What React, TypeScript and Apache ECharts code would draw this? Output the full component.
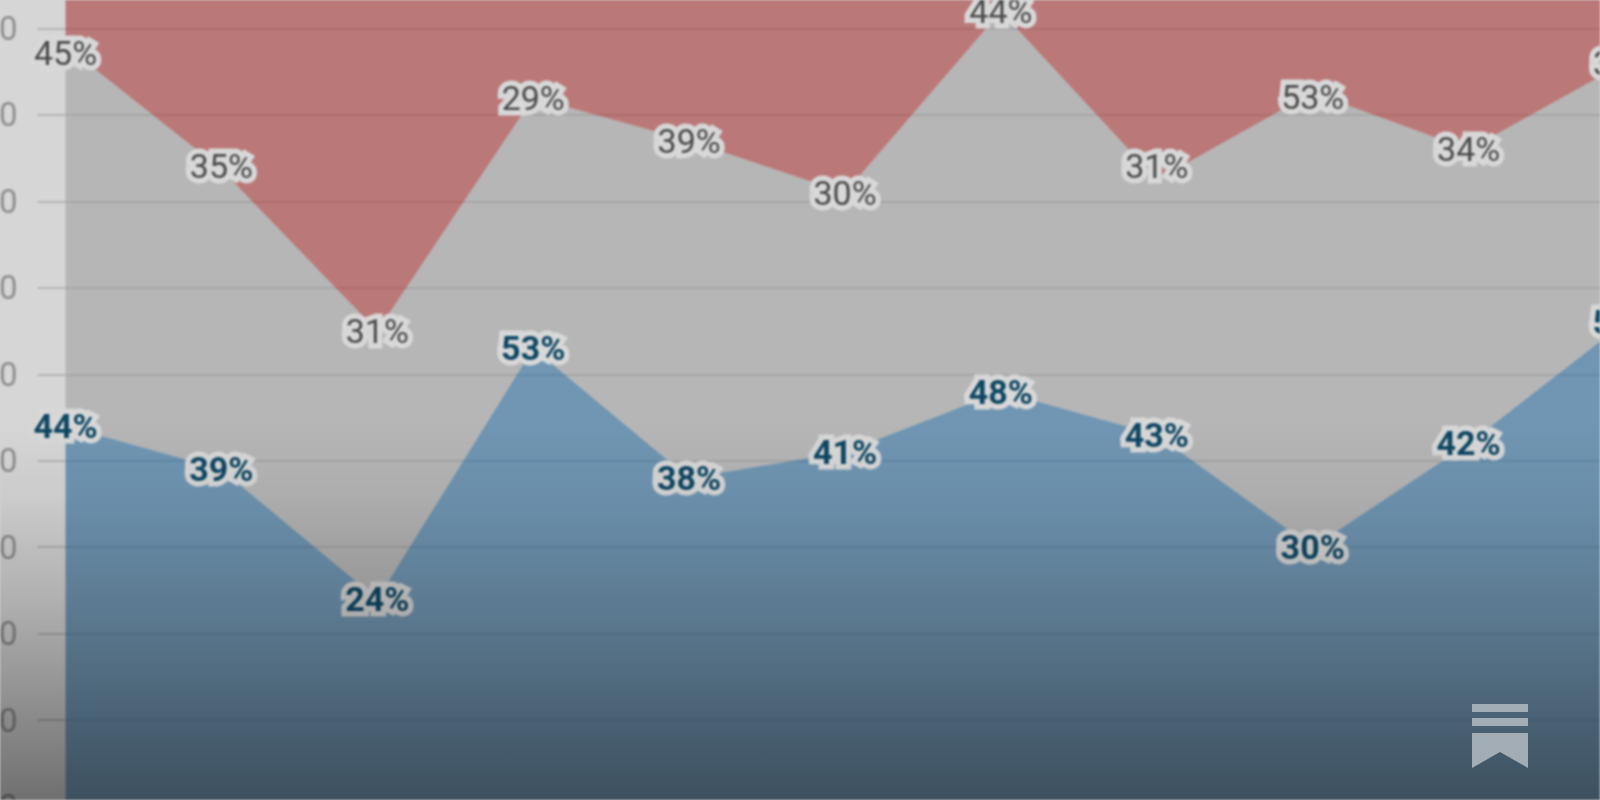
import React, { useEffect, useRef } from "react";
import * as echarts from "echarts";

const categories = ["1", "2", "3", "4", "5", "6", "7", "8", "9", "10", "11"];
const blueValues = [44, 39, 24, 53, 38, 41, 48, 43, 30, 42, 56];
const grayValues = [44, 34.7, 31, 29, 39, 30, 44, 29.5, 52.6, 34, 30];
const redValues = [12, 26.3, 45, 18, 23, 29, 8, 27.5, 17.4, 24, 14];
const blueLabels = ["44%", "39%", "24%", "53%", "38%", "41%", "48%", "43%", "30%", "42%", "56%"];
const grayLabels = ["45%", "35%", "31%", "29%", "39%", "30%", "44%", "31%", "53%", "34%", "30%"];
const yTicks = [0, 10, 20, 30, 40, 50, 60, 70, 80, 90, 100];
const grayLabelShift = [7, -3, 0, 0, 0, 0, 0, -14, 5, 0, 0];

const FONT = "Roboto";

function items(values: number[], labels: string[]) {
  return values.map((value, i) => ({
    value,
    label: { formatter: labels[i] },
  }));
}

export default function App() {
  const chartRef = useRef<HTMLDivElement>(null);
  const logoRef = useRef<HTMLDivElement>(null);

  useEffect(() => {
    const chart = echarts.init(chartRef.current!, undefined, { renderer: "svg" });
    const logo = echarts.init(logoRef.current!, undefined, { renderer: "svg" });

    const area = (name: string, fill: string, data: any[], label: any, labelLayout?: any) => ({
      name,
      type: "line",
      stack: "total",
      data,
      symbol: "circle",
      symbolSize: 1,
      showSymbol: true,
      showAllSymbol: true,
      itemStyle: { color: "rgba(0,0,0,0)" },
      lineStyle: { width: 0 },
      areaStyle: { color: fill, opacity: 1 },
      label,
      labelLayout: labelLayout || { hideOverlap: false },
      z: 3,
    });

    chart.setOption({
      animation: false,
      backgroundColor: "#d6d6d6",
      grid: { left: 65.5, top: -58, right: -24.5, bottom: -6.5, containLabel: false, outerBoundsMode: "none" },
      xAxis: {
        type: "category",
        data: categories,
        boundaryGap: false,
        show: false,
      },
      yAxis: {
        type: "value",
        min: 0,
        max: 100,
        interval: 10,
        axisLine: { show: false },
        axisTick: { show: true, length: 28, lineStyle: { color: "#a9a9a9", width: 1.5 } },
        axisLabel: {
          margin: 48,
          fontFamily: FONT,
          fontSize: 33,
          color: "#8f8f8f",
          formatter: (v: number) => (yTicks.includes(v) ? String(v) : ""),
        },
        splitLine: { show: true, lineStyle: { color: "rgba(70,70,70,0.35)", width: 1.5 } },
      },
      series: [
        area("Blue", "rgba(68,122,164,0.7)", items(blueValues, blueLabels), {
          show: true,
          position: "inside",
          fontFamily: FONT,
          fontSize: 34,
          fontWeight: "bold",
          color: "#0e4763",
          textBorderColor: "#d8d8d8",
          textBorderWidth: 11,
        }),
        area(
          "Gray",
          "rgba(160,160,160,0.6)",
          items(grayValues, grayLabels),
          {
            show: true,
            position: "inside",
            fontFamily: FONT,
            fontSize: 34,
            color: "#4a4a4a",
            textBorderColor: "#d8d8d8",
            textBorderWidth: 11,
          },
          (params: any) => ({ dy: grayLabelShift[params.dataIndex] }),
        ),
        area("Red", "rgba(175,80,80,0.7)", redValues, { show: false }),
      ],
      graphic: [
        {
          type: "rect",
          z: 1000,
          silent: true,
          shape: { x: 0, y: 420, width: 1600, height: 380 },
          style: {
            fill: new echarts.graphic.LinearGradient(0, 0, 0, 1, [
              { offset: 0, color: "rgba(10,10,10,0)" },
              { offset: 0.2, color: "rgba(10,10,10,0.05)" },
              { offset: 0.5, color: "rgba(10,10,10,0.2)" },
              { offset: 1, color: "rgba(10,10,10,0.5)" },
            ]),
          },
        },
      ],
    });

    logo.setOption({
      animation: false,
      graphic: [
        { type: "rect", shape: { x: 1472, y: 704, width: 56, height: 8 }, style: { fill: "#a3adb5" } },
        { type: "rect", shape: { x: 1472, y: 718, width: 56, height: 8 }, style: { fill: "#a3adb5" } },
        {
          type: "polygon",
          shape: { points: [[1472, 733], [1528, 733], [1528, 768], [1500, 752], [1472, 768]] },
          style: { fill: "#a3adb5" },
        },
      ],
    });

    return () => {
      chart.dispose();
      logo.dispose();
    };
  }, []);

  return (
    <div style={{ position: "fixed", left: 0, top: 0, width: 1600, height: 800, overflow: "hidden", background: "#d6d6d6" }}>
      <div ref={chartRef} style={{ position: "absolute", left: 0, top: 0, width: 1600, height: 800, filter: "blur(1.2px)" }} />
      <div ref={logoRef} style={{ position: "absolute", left: 0, top: 0, width: 1600, height: 800 }} />
    </div>
  );
}
